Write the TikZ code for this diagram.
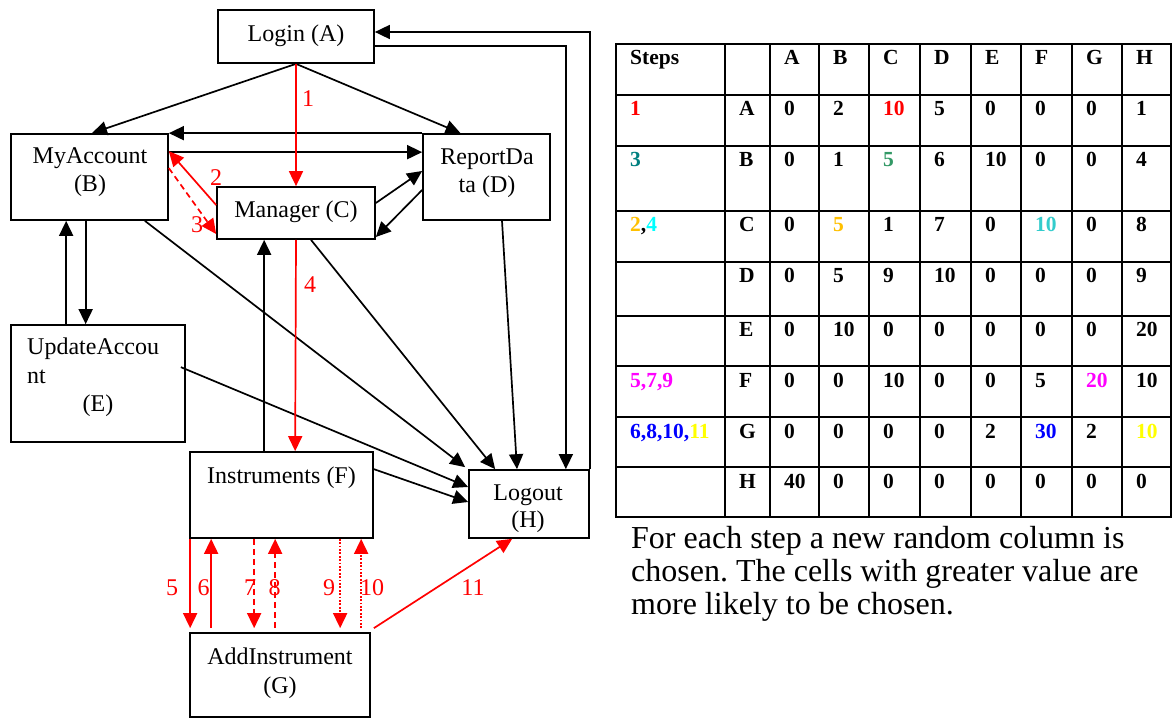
\documentclass[tikz,border=0pt]{standalone}
\usepackage{fontspec}
\setmainfont{Liberation Serif}
\usetikzlibrary{arrows.meta,calc}
\frenchspacing
\definecolor{cred}{HTML}{FF0000}
\definecolor{cteal}{HTML}{008080}
\definecolor{cgreen}{HTML}{339966}
\definecolor{cgold}{HTML}{FFC000}
\definecolor{ccyan}{HTML}{00FFFF}
\definecolor{cturq}{HTML}{33CCCC}
\definecolor{cmag}{HTML}{FF00FF}
\definecolor{cblue}{HTML}{0000FF}
\definecolor{cyel}{HTML}{FFFF00}
\newcommand\tabrowx[3]{%
  \foreach \cellv [count=\c] in {#3} {%
    \pgfmathsetmacro\cx{{616,725,770,819,869,920,971,1021,1072,1122}[\c-1]+14}%
    \node[cell] (t#1-\c) at (\cx,#2+21) {\cellv};
  }}
\begin{document}
\begin{tikzpicture}[x=1pt,y=-1pt,
  box/.style={draw=black, line width=1.7pt, inner sep=0pt},
  lbl/.style={anchor=base, inner sep=0pt, font=\fontsize{24}{28}\selectfont},
  lblw/.style={lbl, anchor=base west},
  rlbl/.style={lbl, text=cred},
  arr/.style={draw=black, line width=1.7pt, -{Triangle[length=15pt,width=14pt]}},
  rarr/.style={arr, draw=cred},
  rdash/.style={rarr, dash pattern=on 6pt off 4pt},
  rdot/.style={rarr, dash pattern=on 1.7pt off 1.7pt},
  tline/.style={draw=black, line width=2.6pt, line cap=rect},
  cell/.style={anchor=base west, inner sep=0pt, font=\fontsize{21.5}{24}\selectfont\bfseries},
  captext/.style={anchor=base west, inner sep=0pt, font=\fontsize{32}{33}\selectfont}
]
\useasboundingbox[fill=white] (0,0) rectangle (1173,719);

% boxes
\node[box, minimum width=156, minimum height=53] (A) at (296,36.5) {};
\node[box, minimum width=157, minimum height=86] (B) at (89.5,177) {};
\node[box, minimum width=127, minimum height=86] (D) at (486.5,177) {};
\node[box, minimum width=158, minimum height=52] (C) at (296,213) {};
\node[box, minimum width=174, minimum height=117] (E) at (98,383.5) {};
\node[box, minimum width=183, minimum height=86] (F) at (281.5,495) {};
\node[box, minimum width=180, minimum height=84] (G) at (280,675) {};
\node[box, minimum width=120, minimum height=68] (H) at (529,504) {};

% box texts
\node[lbl] (tA) at (296,42) {Login (A)};
\node[lbl] (tB1) at (90,164) {MyAccount};
\node[lbl] (tB2) at (90,192) {(B)};
\node[lbl] (tD1) at (487,165) {ReportDa};
\node[lbl] (tD2) at (487,193) {ta (D)};
\node[lbl] (tC) at (296,218) {Manager (C)};
\node[lblw] (tE1) at (27,355) {UpdateAccou};
\node[lblw] (tE2) at (27,383) {nt};
\node[lbl] (tE3) at (98,411) {(E)};
\node[lbl] (tF) at (281.5,483) {Instruments (F)};
\node[lbl] (tG1) at (280,664) {AddInstrument};
\node[lbl] (tG2) at (280,693) {(G)};
\node[lbl] (tH1) at (528,500) {Logout};
\node[lbl] (tH2) at (528,527) {(H)};

% black connectors
\draw[arr] (A.south) -- ($(B.north)+(2.5,0)$);
\draw[arr] (A.south) -- ($(D.north)+(-26,0)$);
\draw[arr] (D.north west) -- (B.north east);
\draw[arr] ($(B.north east)+(0,19)$) -- ($(D.north west)+(0,19)$);
\draw[arr] ($(C.east)+(0,-10)$) -- ($(D.west)+(0,-6)$);
\draw[arr] ($(D.west)+(0,13)$) -- ($(C.east)+(0,24)$);
\draw[arr] ($(E.north west)+(56,0)$) -- ($(B.south west)+(56,0)$);
\draw[arr] ($(B.south west)+(75.5,0)$) -- ($(E.north west)+(75.5,0)$);
\draw[arr] ($(B.south east)+(-24,0)$) -- ($(H.north west)+(-3,-2)$);
\draw[arr] ($(C.south)+(15,0)$) -- ($(H.north west)+(27,0)$);
\draw[arr] ($(D.south)+(15.5,0)$) -- ($(H.north)+(-12,0)$);
\draw[arr] ($(A.east)+(0,9.5)$) -| ($(H.north east)+(-24,0)$);
\draw[arr] (H.north east) |- ($(A.east)+(0,-4.5)$);
\draw[arr] ($(E.north east)+(-5,43)$) -- ($(H.west)+(0,-17)$);
\draw[arr] ($(F.north east)+(0,18)$) -- ($(H.west)+(0,-2)$);
\draw[arr] ($(F.north west)+(75,0)$) -- ($(C.south west)+(48,0)$);

% red connectors
\draw[rarr] (A.south) -- (C.north);
\draw[rarr] ($(C.west)+(0,-8)$) -- ($(B.north east)+(0,18)$);
\draw[rdash] ($(B.north east)+(0,35)$) -- ($(C.west)+(0,21)$);
\draw[rarr] (C.south) -- ($(F.north west)+(106,0)$);
\draw[rarr] ($(F.south west)+(1,0)$) -- ($(G.north west)+(1,-4)$);
\draw[rarr] ($(G.north west)+(22,-4)$) -- ($(F.south west)+(22,0)$);
\draw[rdash] ($(F.south west)+(65,0)$) -- ($(G.north west)+(65,-4)$);
\draw[rdash] ($(G.north west)+(86,-4)$) -- ($(F.south west)+(86,0)$);
\draw[rdot] ($(F.south west)+(151,0)$) -- ($(G.north west)+(151,-4)$);
\draw[rdot] ($(G.north west)+(172,-4)$) -- ($(F.south west)+(172,0)$);
\draw[rarr] ($(G.north east)+(3,-4)$) -- ($(H.south west)+(44,0)$);

% red step labels
\node[rlbl] (s1) at (308,107) {1};
\node[rlbl] (s2) at (216,186) {2};
\node[rlbl] (s3) at (197,233) {3};
\node[rlbl] (s4) at (310,293) {4};
\node[rlbl] (s5) at (172,595) {5};
\node[rlbl] (s6) at (203.5,595) {6};
\node[rlbl] (s7) at (250,595) {7};
\node[rlbl] (s8) at (274.5,595) {8};
\node[rlbl] (s9) at (329,595) {9};
\node[rlbl] (s10) at (372,595) {10};
\node[rlbl] (s11) at (473,595) {11};

% table grid
\foreach \x in {616,725,770,819,869,920,971,1021,1072,1122,1171}
  \draw[tline] (\x,44) -- (\x,517);
\foreach \y in {44,95,146,211,262,316,366,417,467,517}
  \draw[tline] (616,\y) -- (1171,\y);

% table cells
\tabrowx{0}{44}{Steps,{},A,B,C,D,E,F,G,H}
\tabrowx{1}{95}{{\textcolor{cred}{1}},A,0,2,{\textcolor{cred}{10}},5,0,0,0,1}
\tabrowx{2}{146}{{\textcolor{cteal}{3}},B,0,1,{\textcolor{cgreen}{5}},6,10,0,0,4}
\tabrowx{3}{211}{{\textcolor{cgold}{2},\textcolor{ccyan}{4}},C,0,{\textcolor{cgold}{5}},1,7,0,{\textcolor{cturq}{10}},0,8}
\tabrowx{4}{262}{{},D,0,5,9,10,0,0,0,9}
\tabrowx{5}{316}{{},E,0,10,0,0,0,0,0,20}
\tabrowx{6}{366}{{\textcolor{cmag}{5,7,9}},F,0,0,10,0,0,5,{\textcolor{cmag}{20}},10}
\tabrowx{7}{417}{{\textcolor{cblue}{6,8,10,}\textcolor{cyel}{11}},G,0,0,0,0,2,{\textcolor{cblue}{30}},2,{\textcolor{cyel}{10}}}
\tabrowx{8}{467}{{},H,40,0,0,0,0,0,0,0}

% caption
\node[captext] (cap1) at (631,548) {For each step a new random column is};
\node[captext] (cap2) at (631,581) {chosen. The cells with greater value are};
\node[captext] (cap3) at (631,614) {more likely to be chosen.};
\end{tikzpicture}
\end{document}
